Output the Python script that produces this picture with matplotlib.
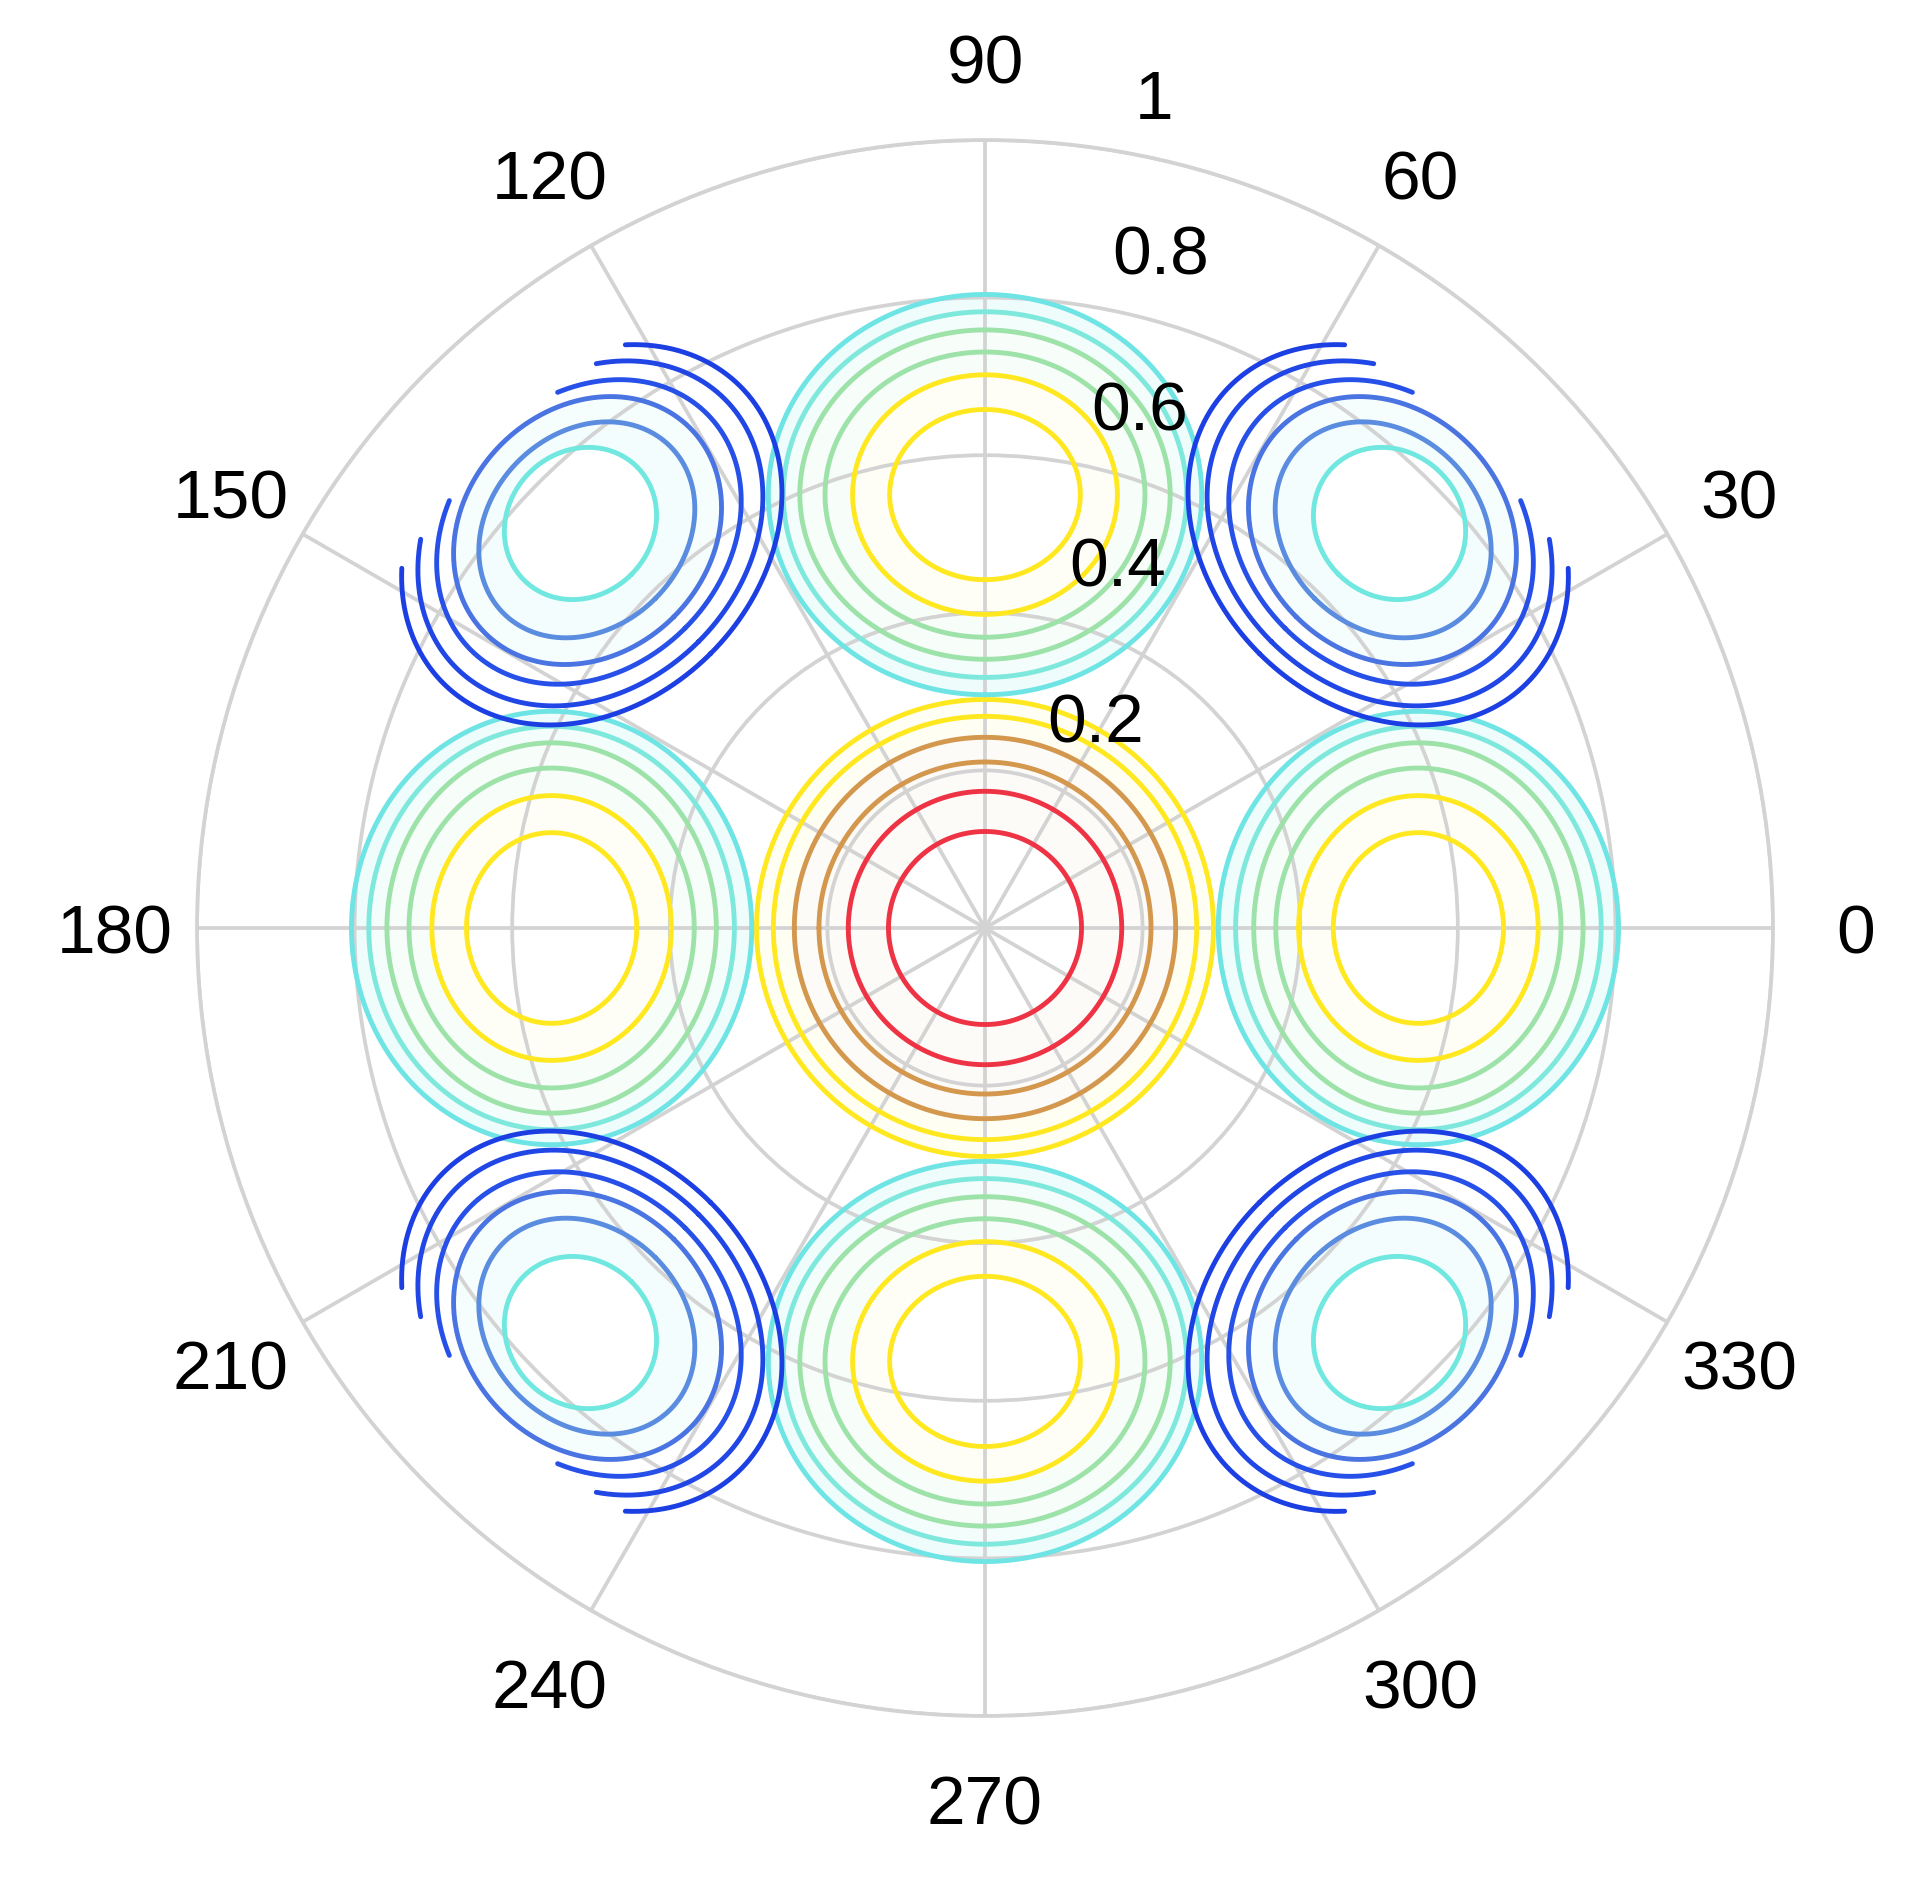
import numpy as np
import matplotlib
matplotlib.use("Agg")
import matplotlib.pyplot as plt

plt.rcParams['font.family'] = ['Liberation Sans', 'DejaVu Sans']

# ---------------- data ----------------
theta_ticks = [0, 30, 60, 90, 120, 150, 180, 210, 240, 270, 300, 330]
theta_labels = ['0', '30', '60', '90', '120', '150', '180', '210', '240', '270', '300', '330']
r_ticks = [0.2, 0.4, 0.6, 0.8, 1.0]
r_labels = ['0.2', '0.4', '0.6', '0.8', '1']

# central peak: concentric contour radii
center_radii = [0.1225, 0.1735, 0.2107, 0.242, 0.2686, 0.29]
center_colors = ['#EE3344', '#EE3344', '#D4974E', '#D4974E', '#FFE81F', '#FFE81F']
center_tints = [None, None, 0.04, 0.04, 0.06, 0.06]

# positive side lobes (0, 90, 180, 270 deg)
pos_angles = [0, 90, 180, 270]
pos_center_r = 0.55
pos_radial = [0.108, 0.152, 0.181, 0.209, 0.232, 0.254]
pos_tangential = [0.121, 0.168, 0.203, 0.235, 0.256, 0.275]
pos_colors = ['#FFE81F', '#FFE81F', '#9DE2A8', '#9DE2A8', '#7FE8DC', '#6EE4E4']
pos_tints = [None, 0.04, 0.08, 0.08, 0.10, 0.12]

# blue side lobes (45, 135, 225, 315 deg), outer contours clipped at data edge
neg_angles = [45, 135, 225, 315]
neg_center_r = [0.726, 0.7146, 0.7133, 0.7108, 0.7082, 0.7057]
neg_radial = [0.0914, 0.1231, 0.1548, 0.1726, 0.1942, 0.2132]
neg_tangential = [0.1015, 0.1497, 0.184, 0.2119, 0.2411, 0.2665]
neg_colors = ['#70E8E0', '#5A8CE0', '#4A74E2', '#2650E8', '#2047E6', '#1C3FE4']
neg_tint_color = '#70E8E0'
neg_tints = [None, 0.08, 0.06, None, None, None]
data_edge_r = 0.87


def ellipse_polar(theta0_deg, r0, a, b, rmax=None, n=720):
    th0 = np.radians(theta0_deg)
    t = np.linspace(np.pi, 3 * np.pi, n)  # start at inner side
    ux, uy = np.cos(th0), np.sin(th0)
    vx, vy = -np.sin(th0), np.cos(th0)
    x = r0 * ux + a * np.cos(t) * ux + b * np.sin(t) * vx
    y = r0 * uy + a * np.cos(t) * uy + b * np.sin(t) * vy
    r = np.hypot(x, y)
    th = np.unwrap(np.arctan2(y, x))
    if rmax is not None:
        r = np.where(r > rmax, np.nan, r)
    return th, r


def tint(c, f):
    rgb = np.array(matplotlib.colors.to_rgb(c))
    return tuple(1 - (1 - rgb) * f)


fig = plt.figure(figsize=(19.23, 18.82), dpi=100)
R_px = 788
cx, cy = 985, 928
W, H = 1923, 1882
ax = fig.add_axes([(cx - R_px) / W, (H - cy - R_px) / H, 2 * R_px / W, 2 * R_px / H],
                  projection='polar')

grid_col = '#D3D3D3'
ax.set_ylim(0, 1)
ax.set_xticks(np.radians(theta_ticks))
ax.set_xticklabels([])
ax.set_yticks(r_ticks)
ax.set_yticklabels([])
ax.grid(True, color=grid_col, lw=2.7)
ax.set_axisbelow(False)
ax.spines['polar'].set_color(grid_col)
ax.spines['polar'].set_linewidth(2.7)
ax.tick_params(length=0)

lw = 3.5


def draw_lobe(ang, rcs, radial, tang, colors, tints, rmax=None, tint_colors=None):
    n = len(radial)
    tint_colors = tint_colors or colors
    for i in range(n - 1, -1, -1):
        f = tints[i]
        if f is None and i > 0:
            continue
        th, r = ellipse_polar(ang, rcs[i], radial[i], tang[i])
        col = 'white' if f is None else tint(tint_colors[i], f)
        ax.fill(th, r, color=col, lw=0, zorder=1)
    for i in range(n):
        th, r = ellipse_polar(ang, rcs[i], radial[i], tang[i], rmax=rmax)
        ax.plot(th, r, color=colors[i], lw=lw, zorder=3, solid_capstyle='round')


draw_lobe(0, [0.0] * len(center_radii), center_radii, center_radii, center_colors, center_tints)
for ang in pos_angles:
    draw_lobe(ang, [pos_center_r] * len(pos_radial), pos_radial, pos_tangential,
              pos_colors, pos_tints)
for ang in neg_angles:
    draw_lobe(ang, neg_center_r, neg_radial, neg_tangential, neg_colors, neg_tints,
              rmax=data_edge_r, tint_colors=[neg_tint_color] * len(neg_radial))

# angle labels
for deg, lab in zip(theta_ticks, theta_labels):
    ax.annotate(lab, xy=(np.radians(deg), 1.105), xytext=(0, -8), textcoords='offset pixels',
                ha='center', va='center', fontsize=50, color='black',
                annotation_clip=False)

# radial labels
for rv, lab in zip(r_ticks, r_labels):
    ax.annotate(lab, xy=(np.radians(82), rv), xytext=(40, 29), textcoords='offset pixels',
                ha='left', va='baseline', fontsize=50, color='black', zorder=5,
                annotation_clip=False)

fig.savefig('out.png', dpi=100, facecolor='white')
